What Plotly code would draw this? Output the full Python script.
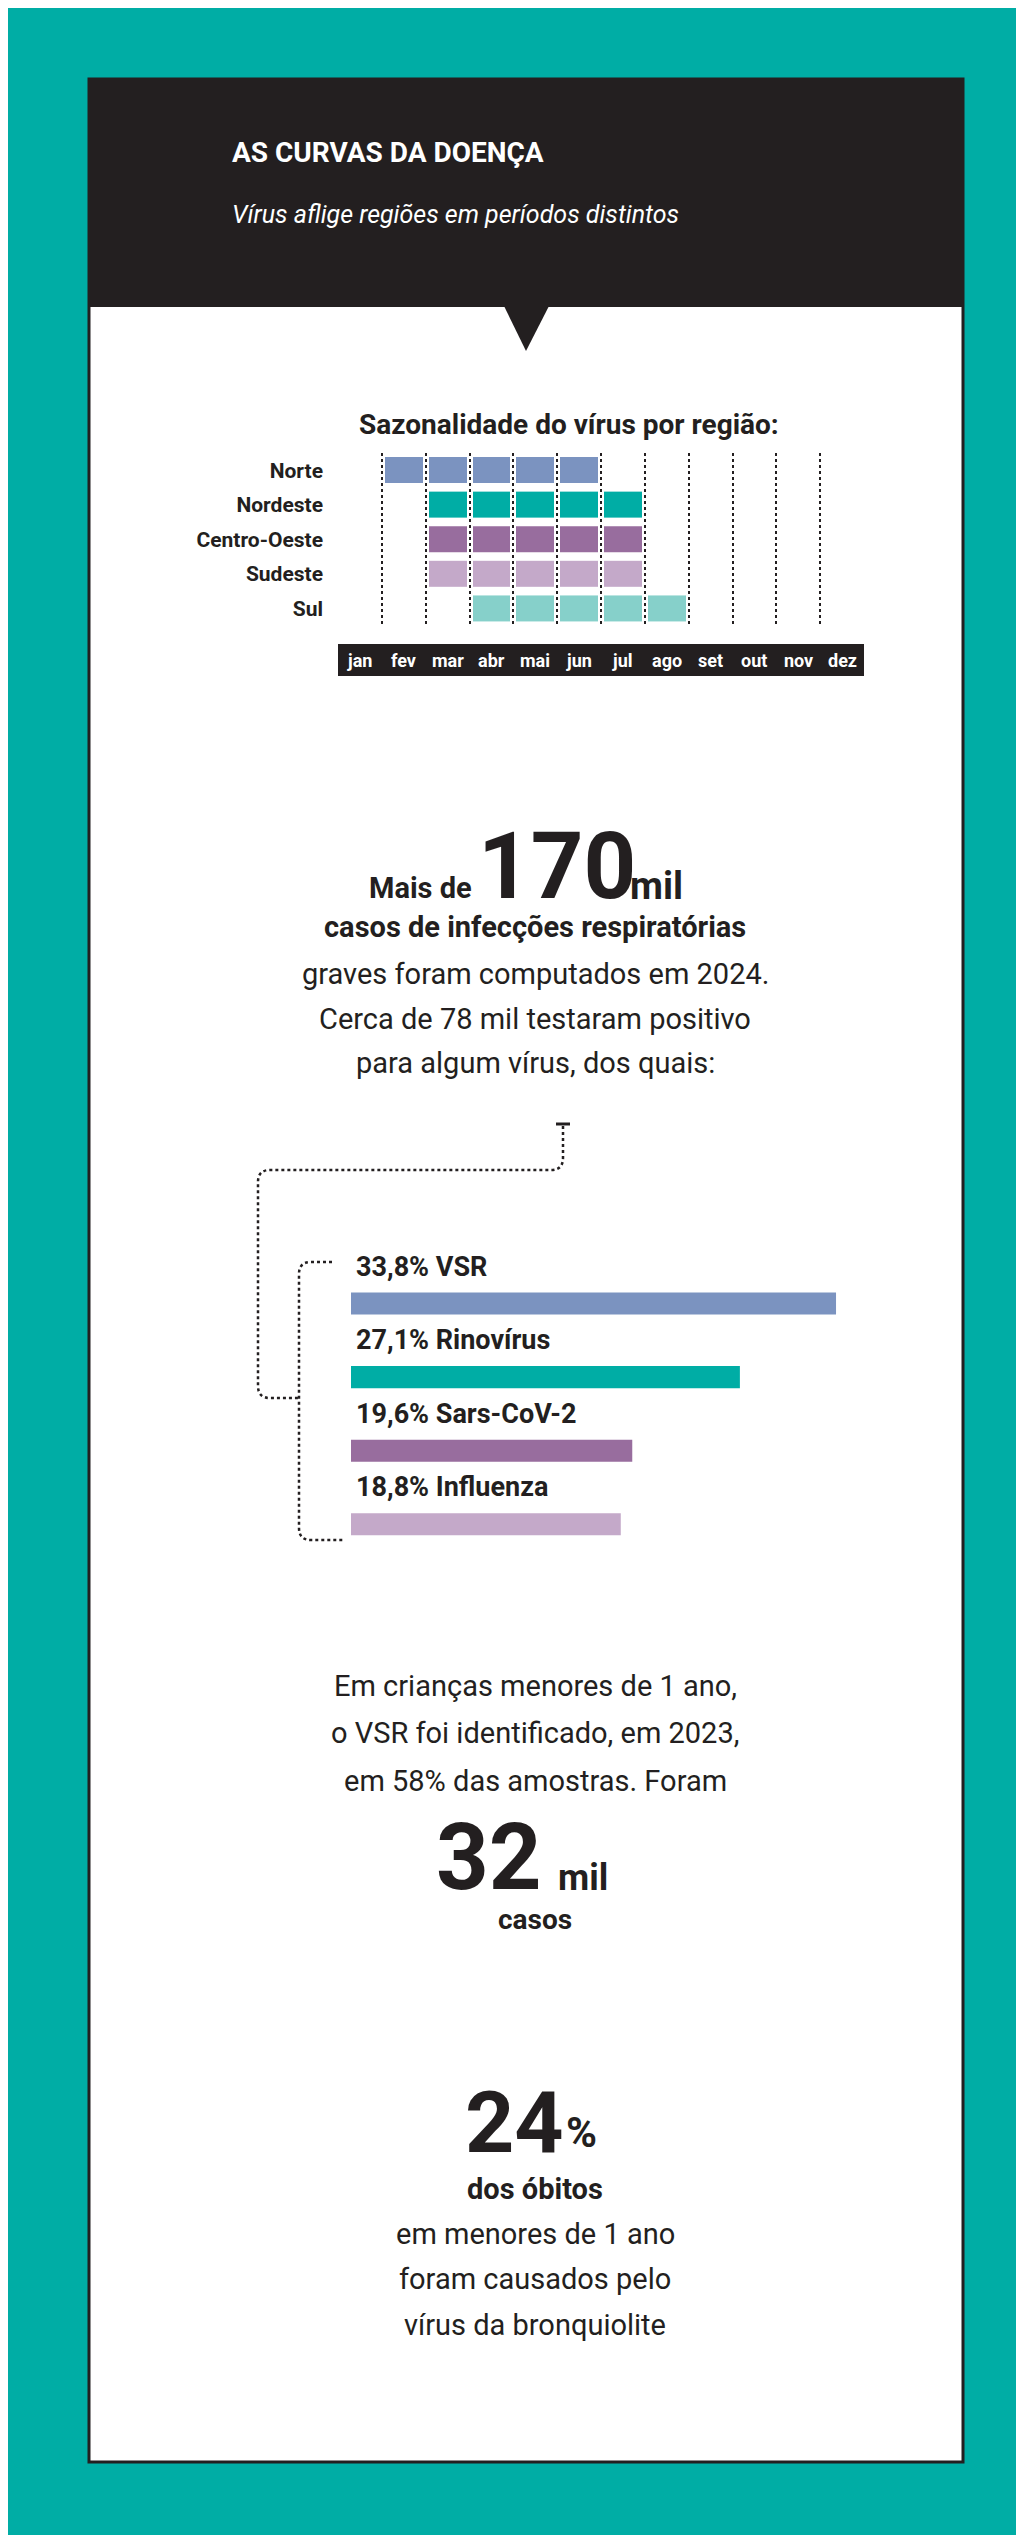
import plotly.graph_objects as go

W, H = 1024, 2535
FONT = "Roboto"
DARK = "#231f20"

months = ["jan", "fev", "mar", "abr", "mai", "jun", "jul", "ago", "set", "out", "nov", "dez"]
regions = ["Norte", "Nordeste", "Centro-Oeste", "Sudeste", "Sul"]
region_colors = ["#7b93c0", "#00ada5", "#986d9e", "#c4a9c9", "#86d0ca"]
# 1 = season active in that month
season = [
    [0, 1, 1, 1, 1, 1, 0, 0, 0, 0, 0, 0],
    [0, 0, 1, 1, 1, 1, 1, 0, 0, 0, 0, 0],
    [0, 0, 1, 1, 1, 1, 1, 0, 0, 0, 0, 0],
    [0, 0, 1, 1, 1, 1, 1, 0, 0, 0, 0, 0],
    [0, 0, 0, 1, 1, 1, 1, 1, 0, 0, 0, 0],
]

viruses = ["VSR", "Rinovírus", "Sars-CoV-2", "Influenza"]
virus_pct = [33.8, 27.1, 19.6, 18.8]
virus_colors = ["#7b93c0", "#00ada5", "#986d9e", "#c4a9c9"]


def py(v):
    return 1 - v / H


fig = go.Figure()

# heatmap: one trace per region so each keeps its own colour
for i, (reg, col) in enumerate(zip(regions, region_colors)):
    z = [[1 if v else None for v in season[i]]]
    fig.add_trace(go.Heatmap(
        x=list(range(12)), y=[i], z=z, xaxis="x2", yaxis="y2",
        colorscale=[[0, col], [1, col]], showscale=False, xgap=6, ygap=9,
        hoverinfo="skip"))

# bars
fig.add_trace(go.Bar(
    x=virus_pct, y=list(range(len(viruses))), orientation="h",
    marker=dict(color=virus_colors, line=dict(width=0)), width=0.3,
    xaxis="x3", yaxis="y3", hoverinfo="skip"))

shapes = [
    dict(type="rect", x0=0, x1=W, y0=0, y1=H, fillcolor="#00ada5", line_width=0, layer="below"),
    dict(type="rect", x0=81, x1=955, y0=71, y1=2454, fillcolor="white",
         line=dict(color=DARK, width=3), layer="below"),
    dict(type="rect", x0=81, x1=955, y0=71, y1=299, fillcolor=DARK, line_width=0, layer="below"),
    dict(type="path", path="M 496 298 L 541 298 L 518 343 Z", fillcolor=DARK, line_width=0, layer="below"),
    dict(type="rect", x0=330, x1=856, y0=636, y1=668, fillcolor=DARK, line_width=0, layer="below"),
    # connectors
    dict(type="line", x0=548, x1=562, y0=1116, y1=1116, line=dict(color=DARK, width=3)),
    dict(type="path", path="M 555 1118 L 555 1150 Q 555 1162 543 1162 L 262 1162 Q 250 1162 250 1174 "
                           "L 250 1378 Q 250 1390 262 1390 L 291 1390",
         line=dict(color=DARK, width=2.5, dash="dot")),
    dict(type="path", path="M 324 1254 L 303 1254 Q 291 1254 291 1266 L 291 1520 Q 291 1532 303 1532 L 336 1532",
         line=dict(color=DARK, width=2.5, dash="dot")),
]

ann = []


def txt(x, y, s, size, color=DARK, xa="center", ya="middle", family=FONT, **kw):
    ann.append(dict(x=x, y=y, xref="x", yref="y", text=s, showarrow=False, xanchor=xa, yanchor=ya,
                    font=dict(family=family, size=size, color=color), **kw))


txt(222, 144, "<b>AS CURVAS DA DOENÇA</b>", 28, "white", xa="left")
txt(222, 206, "<i>Vírus aflige regiões em períodos distintos</i>", 25, "white", xa="left")
txt(561, 416, "<b>Sazonalidade do vírus por região:</b>", 28)

for m_i, m in enumerate(months):
    ann.append(dict(x=m_i, y=652, xref="x2", yref="y", text="<b>" + m + "</b>", showarrow=False,
                    yanchor="middle", font=dict(family=FONT, size=18, color="white")))

txt(466, 880, "<b>Mais de</b>", 29, xa="right")
txt(468, 858, "<b>170</b>", 92, xa="left")
txt(620, 878, "<b>mil</b>", 38, xa="left")
txt(527, 919, "<b>casos de infecções respiratórias</b>", 29)
txt(527, 966, "graves foram computados em 2024.", 29)
txt(527, 1011, "Cerca de 78 mil testaram positivo", 29)
txt(527, 1055, "para algum vírus, dos quais:", 29)

for i, (name, p) in enumerate(zip(viruses, virus_pct)):
    label = f"<b>{p:.1f}%".replace(".", ",") + f" {name}</b>"
    ann.append(dict(x=0, y=i - 0.5, xref="x3", yref="y3", text=label, showarrow=False,
                    xanchor="left", yanchor="middle", xshift=3,
                    font=dict(family=FONT, size=27, color=DARK)))

txt(527, 1678, "Em crianças menores de 1 ano,", 29)
txt(527, 1725, "o VSR foi identificado, em 2023,", 29)
txt(527, 1773, "em 58% das amostras. Foram", 29)
txt(536, 1849, "<b>32</b>", 92, xa="right")
txt(548, 1870, "<b>mil</b>", 36, xa="left")
txt(527, 1911, "<b>casos</b>", 28)

txt(558, 2114, "<b>24</b>", 86, xa="right")
txt(556, 2124, "<b>%</b>", 42, xa="left")
txt(527, 2181, "<b>dos óbitos</b>", 29)
txt(527, 2226, "em menores de 1 ano", 29)
txt(527, 2271, "foram causados pelo", 29)
txt(527, 2317, "vírus da bronquiolite", 29)

bar_px = 14.35
fig.update_layout(
    width=W, height=H, margin=dict(l=0, r=0, t=0, b=0), showlegend=False,
    paper_bgcolor="#00ada5", plot_bgcolor="rgba(0,0,0,0)", shapes=shapes, annotations=ann,
    xaxis=dict(range=[0, W], visible=False, domain=[0, 1]),
    yaxis=dict(range=[H, 0], visible=False, domain=[0, 1]),
    xaxis2=dict(domain=[330 / W, 856 / W], range=[-0.5, 11.5], anchor="y2",
                tickvals=[k - 0.5 for k in range(13)], showticklabels=False, ticks="",
                showgrid=True, gridcolor=DARK, griddash="dot", gridwidth=2, zeroline=False),
    yaxis2=dict(domain=[py(618), py(445)], range=[4.5, -0.5], anchor="x2",
                tickvals=list(range(5)), ticktext=["<b>" + r + "</b>" for r in regions],
                tickfont=dict(family=FONT, size=21, color=DARK), showgrid=False, zeroline=False,
                ticks="", ticklabelstandoff=14),
    xaxis3=dict(domain=[343 / W, 1], range=[0, (W - 343) / bar_px], anchor="y3", visible=False),
    yaxis3=dict(domain=[py(1553), py(1222)], range=[3.5, -1.0], anchor="x3", visible=False),
)

fig.write_html("out.html")
